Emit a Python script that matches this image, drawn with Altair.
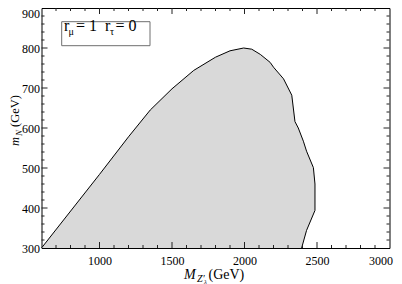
import altair as alt
import pandas as pd

# Boundary of the shaded region (M_Z' in GeV, m_N in GeV)
boundary_x = [600, 1000, 1200, 1350, 1500, 1650, 1800, 1900, 1994, 2050, 2109, 2177, 2200,
              2269, 2326, 2348, 2371, 2406, 2428, 2475, 2486, 2486, 2428, 2394]
boundary_y = [300, 484, 578, 645, 698, 744, 777, 793, 800, 797, 784, 764, 752,
              723, 682, 616, 600, 567, 542, 501, 460, 394, 344, 300]

x_tick_labels = [1000, 1500, 2000, 2500, 3000]
y_tick_labels = [300, 400, 500, 600, 700, 800, 900]
x_major = [1000, 1500, 2000, 2500]
y_major = [400, 500, 600, 700, 800]
x_minor = [700, 800, 900, 1100, 1200, 1300, 1400, 1600, 1700, 1800, 1900,
           2100, 2200, 2300, 2400, 2600, 2700, 2800, 2900]
y_minor = [320, 340, 360, 380, 420, 440, 460, 480, 520, 540, 560, 580,
           620, 640, 660, 680, 720, 740, 760, 780, 820, 840, 860, 880]

legend_r = "r"
legend_mu = "μ"
legend_eq1 = "= 1"
legend_tau = "τ"
legend_eq0 = "= 0"
ytitle_main = "m"
ytitle_sub = "N"
ytitle_unit = "(GeV)"
xtitle_main = "M"
xtitle_sub = "Z′"
xtitle_subsub = "λ"
xtitle_unit = "(GeV)"

W, H = 348, 240
SERIF = "Liberation Serif"

xs = alt.Scale(domain=[600, 3000], nice=False, zero=False)
ys = alt.Scale(domain=[300, 900], nice=False, zero=False)

x_axis = alt.Axis(values=x_tick_labels, format="d", ticks=False, domain=False, grid=False,
                  labelFont=SERIF, labelFontSize=12, labelColor="black",
                  labelPadding=7, title=None, labelFlush=False,
                  labelOffset={"condition": {"test": "datum.value == 3000", "value": -9},
                               "value": 0})
y_axis = alt.Axis(values=y_tick_labels, format="d", ticks=False, domain=False, grid=False,
                  labelFont=SERIF, labelFontSize=12, labelColor="black",
                  labelPadding=2, title=None, labelFlush=False,
                  labelBaseline={"condition": {"test": "datum.value == 900", "value": "top"},
                                 "value": "middle"})

df = pd.DataFrame({"x": boundary_x, "y": boundary_y, "i": list(range(len(boundary_x)))})

region = alt.Chart(df).mark_line(
    fill="#d9d9d9", stroke="black", strokeWidth=1, interpolate="linear"
).encode(
    x=alt.X("x:Q", scale=xs, axis=x_axis),
    y=alt.Y("y:Q", scale=ys, axis=y_axis),
    order="i:Q",
)


def xticks(vals, length):
    d = pd.DataFrame({"x": vals})
    bottom = alt.Chart(d).mark_rule(color="#222", strokeWidth=1).encode(
        x=alt.X("x:Q", scale=xs, axis=x_axis), y=alt.value(H), y2=alt.value(H - length))
    top = alt.Chart(d).mark_rule(color="#222", strokeWidth=1).encode(
        x=alt.X("x:Q", scale=xs, axis=x_axis), y=alt.value(0), y2=alt.value(length))
    return [bottom, top]


def yticks(vals, length):
    d = pd.DataFrame({"y": vals})
    left = alt.Chart(d).mark_rule(color="#222", strokeWidth=1).encode(
        y=alt.Y("y:Q", scale=ys, axis=y_axis), x=alt.value(0), x2=alt.value(length))
    right = alt.Chart(d).mark_rule(color="#222", strokeWidth=1).encode(
        y=alt.Y("y:Q", scale=ys, axis=y_axis), x=alt.value(W), x2=alt.value(W - length))
    return [left, right]


def label(txt, x, y, size, italic=False, angle=0):
    kw = dict(x=x, y=y, font=SERIF, fontSize=size, align="left", baseline="alphabetic",
              color="black")
    if italic:
        kw["fontStyle"] = "italic"
    if angle:
        kw["angle"] = angle
    return alt.Chart(pd.DataFrame({"t": [txt]})).mark_text(**kw).encode(text="t:N")


OX, OY = 41.5, 8  # plot origin on the page

box = alt.Chart(pd.DataFrame({"t": [legend_r]})).mark_rect(
    fill="white", stroke="#6e6e6e", strokeWidth=1
).encode(x=alt.value(61.7 - OX), x2=alt.value(150 - OX),
         y=alt.value(21.7 - OY), y2=alt.value(45.7 - OY))

texts = [
    label(legend_r, 64 - OX, 31 - OY, 16),
    label(legend_mu, 68.5 - OX, 34.5 - OY, 10),
    label(legend_eq1, 76 - OX, 31 - OY, 16),
    label(legend_r, 105 - OX, 31 - OY, 16),
    label(legend_tau, 110 - OX, 34.5 - OY, 10),
    label(legend_eq0, 115.5 - OX, 31 - OY, 16),
    # y title (rotated)
    label(ytitle_main, 19 - OX, 146 - OY, 12.5, italic=True, angle=270),
    label(ytitle_sub, 21.5 - OX, 136 - OY, 9, italic=True, angle=270),
    label(ytitle_unit, 19 - OX, 127 - OY, 12.5, angle=270),
    # x title
    label(xtitle_main, 184 - OX, 278.5 - OY, 14, italic=True),
    label(xtitle_sub, 197 - OX, 282 - OY, 10, italic=True),
    label(xtitle_subsub, 204 - OX, 284 - OY, 6.5, italic=True),
    label(xtitle_unit, 208.5 - OX, 278.5 - OY, 14),
]

layers = [region] + xticks(x_minor, 3) + xticks(x_major, 6) + yticks(y_minor, 3) + \
    yticks(y_major, 6) + [box] + texts

chart = alt.layer(*layers).properties(
    width=W, height=H,
    autosize=alt.AutoSizeParams(type="none"),
    padding={"left": OX - 8, "top": OY - 8, "right": 394 - OX - W, "bottom": 284 - OY - H},
    background="white",
).configure_view(stroke="black", strokeWidth=1)

chart.save("out.html", embed_options={"renderer": "svg", "actions": False})
